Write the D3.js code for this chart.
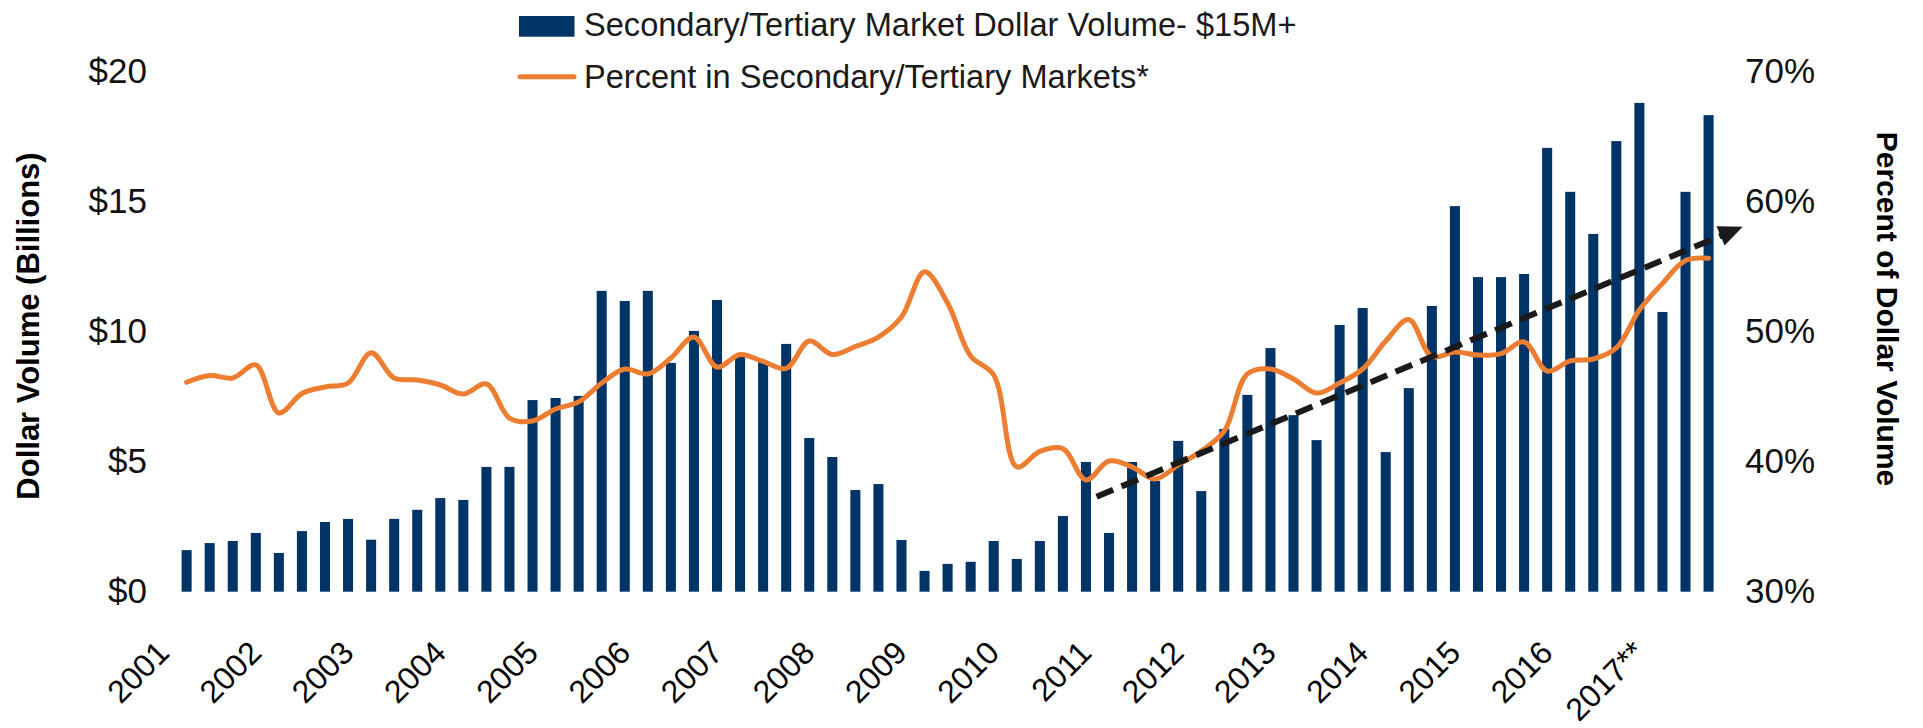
<!DOCTYPE html>
<html>
<head>
<meta charset="utf-8">
<script src="https://cdn.jsdelivr.net/npm/d3@7/dist/d3.min.js"></script>
<style>
  html, body { margin: 0; padding: 0; background: #fff; }
  svg { display: block; font-family: "Liberation Sans", Arial, sans-serif; }
</style>
</head>
<body>
<svg id="chart" width="1923" height="728"></svg>
<script>
// ---------------- DATA ----------------
const years = ["2001","2002","2003","2004","2005","2006","2007","2008","2009","2010","2011","2012","2013","2014","2015","2016","2017"];
const quarterNames = ["Q1","Q2","Q3","Q4"];
const quarterCount = 67; // 2001 Q1 .. 2017 Q3
const tickLabels = ["2001","2002","2003","2004","2005","2006","2007","2008","2009","2010","2011","2012","2013","2014","2015","2016","2017**"];

// Secondary/Tertiary Market Dollar Volume ($B), quarterly
const dollarVolume = [
  1.60, 1.87, 1.95, 2.26,  1.49, 2.33, 2.68, 2.80,  2.00, 2.80, 3.15, 3.60,
  3.53, 4.80, 4.80, 7.37,  7.45, 7.53, 11.57, 11.18, 11.57, 8.80, 10.03, 11.22,
  9.05, 8.85, 9.53, 5.91,  5.18, 3.91, 4.14, 1.99,  0.80, 1.07, 1.15, 1.95,
  1.26, 1.95, 2.91, 4.99,  2.26, 4.99, 4.26, 5.80,  3.87, 6.26, 7.57, 9.37,
  6.79, 5.83, 10.26, 10.91, 5.37, 7.83, 10.99, 14.83, 12.10, 12.10, 12.22, 17.07,
  15.38, 13.76, 17.33, 18.80, 10.76, 15.38, 18.33
];

// Percent in Secondary/Tertiary Markets (%), quarterly
const percentSecondary = [
  46.11, 46.63, 46.44, 47.44, 43.75, 45.25, 45.75, 46.05, 48.38, 46.44, 46.28, 45.90,
  45.20, 45.98, 43.36, 43.13, 44.05, 44.60, 46.05, 47.13, 46.75, 47.98, 49.59, 47.28,
  48.25, 47.71, 47.18, 49.28, 48.25, 48.86, 49.59, 51.13, 54.61, 52.20, 48.13, 46.67,
  39.60, 40.80, 41.00, 38.60, 40.05, 39.60, 38.67, 39.75, 40.82, 42.36, 46.75, 47.13,
  46.36, 45.28, 46.05, 47.13, 49.28, 50.94, 48.09, 48.44, 48.20, 48.32, 49.21, 46.98,
  47.75, 47.90, 48.75, 51.67, 53.72, 55.48, 55.65
];

// Trend arrow (quarter index, percent)
const trendFrom = [39.46, 37.3];
const trendTo = [67.48, 58.08];

const leftTicks = [0, 5, 10, 15, 20];
const rightTicks = [30, 40, 50, 60, 70];

const legendLabels = ["Secondary/Tertiary Market Dollar Volume- $15M+", "Percent in Secondary/Tertiary Markets*"];

// ---------------- CHART ----------------
const categories = [];
years.forEach(y => quarterNames.forEach(q => { if (categories.length < quarterCount) categories.push(y + " " + q); }));

const NAVY = "#003366", ORANGE = "#ED7D31", INK = "#111";
const svg = d3.select("#chart");

const x = d3.scaleBand().domain(d3.range(categories.length))
  .range([175.1, 1720.1]).paddingInner(0.565).paddingOuter(0.2825);
const bw = x.bandwidth();
const xIdx = d3.scaleLinear().domain([0, categories.length - 1])
  .range([x(0) + bw / 2, x(categories.length - 1) + bw / 2]);

const yL = d3.scaleLinear().domain([0, 20]).range([591.7, 71.7]);
const yR = d3.scaleLinear().domain([30, 70]).range([591.7, 71.7]);

// bars
svg.append("g").selectAll("rect").data(dollarVolume).join("rect")
  .attr("x", (d, i) => x(i)).attr("width", bw)
  .attr("y", d => yL(d)).attr("height", d => yL(0) - yL(d))
  .attr("fill", NAVY);

// line
svg.append("path").datum(percentSecondary)
  .attr("d", d3.line().x((d, i) => xIdx(i)).y(d => yR(d)).curve(d3.curveCatmullRom.alpha(0.5)))
  .attr("fill", "none").attr("stroke", ORANGE).attr("stroke-width", 5)
  .attr("stroke-linejoin", "round").attr("stroke-linecap", "round");

// trend arrow
{
  const x0 = xIdx(trendFrom[0]), y0 = yR(trendFrom[1]);
  const x1 = xIdx(trendTo[0]), y1 = yR(trendTo[1]);
  const L = Math.hypot(x1 - x0, y1 - y0), ux = (x1 - x0) / L, uy = (y1 - y0) / L;
  const headLen = 24, headHalf = 10.5;
  const bx = x1 - ux * headLen, by = y1 - uy * headLen;
  svg.append("line").attr("x1", x0).attr("y1", y0).attr("x2", bx + ux * 2).attr("y2", by + uy * 2)
    .attr("stroke", "#1a1a1a").attr("stroke-width", 6).attr("stroke-dasharray", "18,9");
  svg.append("path")
    .attr("d", `M${x1},${y1}L${bx - uy * headHalf},${by + ux * headHalf}L${bx + uy * headHalf},${by - ux * headHalf}Z`)
    .attr("fill", "#1a1a1a");
}

// left axis
const gL = svg.append("g").attr("transform", "translate(147,0)")
  .call(d3.axisLeft(yL).tickValues(leftTicks).tickFormat(d => "$" + d).tickSize(0).tickPadding(0));
gL.select(".domain").remove();
gL.selectAll("text").attr("font-size", 35).attr("fill", INK).attr("font-family", "Liberation Sans, Arial, sans-serif");

// right axis
const gR = svg.append("g").attr("transform", "translate(1745,0)")
  .call(d3.axisRight(yR).tickValues(rightTicks).tickFormat(d => d + "%").tickSize(0).tickPadding(0));
gR.select(".domain").remove();
gR.selectAll("text").attr("font-size", 35).attr("fill", INK).attr("font-family", "Liberation Sans, Arial, sans-serif");

// x axis
const tickIdx = tickLabels.map((t, i) => i * 4);
const gX = svg.append("g").attr("transform", `translate(0,${yL(0)})`)
  .call(d3.axisBottom(x).tickValues(tickIdx).tickFormat((d, i) => tickLabels[i]).tickSize(0));
gX.select(".domain").remove();
gX.selectAll("text")
  .attr("x", 0).attr("y", 0).attr("dy", 0)
  .attr("text-anchor", "end")
  .attr("transform", "translate(-15.6,63) rotate(-45)")
  .attr("font-size", 32).attr("fill", "#000").attr("font-family", "Liberation Sans, Arial, sans-serif");

// axis titles
svg.append("text").attr("transform", "translate(39,326) rotate(-90)")
  .attr("text-anchor", "middle").attr("font-size", 31).attr("font-weight", "bold").attr("fill", "#000")
  .text("Dollar Volume (Billions)");
svg.append("text").attr("transform", "translate(1877,309) rotate(90)")
  .attr("text-anchor", "middle").attr("font-size", 30).attr("font-weight", "bold").attr("fill", "#000")
  .text("Percent of Dollar Volume");

// legend
const lg = svg.append("g");
lg.append("rect").attr("x", 519).attr("y", 16).attr("width", 55.5).attr("height", 20.7).attr("fill", NAVY);
lg.append("text").attr("x", 584).attr("y", 36).attr("font-size", 32.6).attr("fill", "#1a1a1a").text(legendLabels[0]);
lg.append("line").attr("x1", 520).attr("x2", 574).attr("y1", 76.7).attr("y2", 76.7)
  .attr("stroke", ORANGE).attr("stroke-width", 5).attr("stroke-linecap", "round");
lg.append("text").attr("x", 584).attr("y", 88.3).attr("font-size", 32.6).attr("fill", "#1a1a1a").text(legendLabels[1]);
</script>
</body>
</html>
